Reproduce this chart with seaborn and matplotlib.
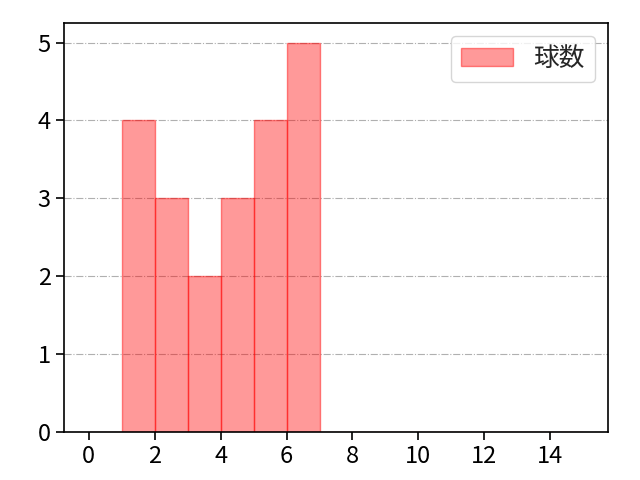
import matplotlib
matplotlib.use("Agg")
import matplotlib.pyplot as plt
import seaborn as sns
import pandas as pd

bin_left = [1, 2, 3, 4, 5, 6]
counts = [4, 3, 2, 3, 4, 5]
bin_edges = list(range(0, 16))
label = "球数"

sns.set_style("ticks")
plt.rcParams['font.family'] = ['Noto Sans CJK JP', 'DejaVu Sans']

df = pd.DataFrame({"x": bin_left, "w": counts})

fig, ax = plt.subplots(figsize=(6.4, 4.8), dpi=100)
sns.histplot(data=df, x="x", weights="w", bins=bin_edges, ax=ax,
             color="red", alpha=0.4, edgecolor=(1, 0, 0, 0.45), linewidth=1.0,
             label=label)
ax.set_xlim(-0.75, 15.75)
ax.set_ylim(0, 5.25)
ax.set_xticks([0, 2, 4, 6, 8, 10, 12, 14])
ax.set_xlabel("")
ax.set_ylabel("")
ax.grid(axis="y", linestyle="-.", color="#b0b0b0", linewidth=0.8)
ax.set_axisbelow(True)
for s in ax.spines.values():
    s.set_linewidth(1.2)
    s.set_color("black")
ax.tick_params(labelsize=17, colors="black", width=1.2, length=6)
ax.legend(loc="upper right", fontsize=18.5)
fig.subplots_adjust(left=0.1, right=0.95, top=0.952, bottom=0.1)
fig.savefig("out.png", dpi=100)
